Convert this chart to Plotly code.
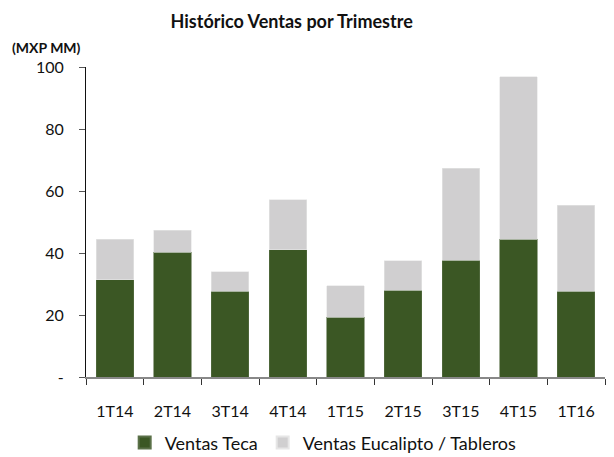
import plotly.graph_objects as go

categories = ["1T14", "2T14", "3T14", "4T14", "1T15", "2T15", "3T15", "4T15", "1T16"]
ventas_teca = [31.3, 40.3, 27.6, 41.0, 19.3, 28.0, 37.6, 44.4, 27.6]
ventas_eucalipto = [13.1, 7.1, 6.3, 16.2, 10.1, 9.5, 29.8, 52.5, 27.8]
y_tickvals = [0, 20, 40, 60, 80, 100]
y_ticktext = ["-", "20", "40", "60", "80", "100"]

font_fam = "Lato, 'Open Sans', sans-serif"

fig = go.Figure()
fig.add_trace(go.Bar(
    x=categories, y=ventas_teca, name="Ventas Teca",
    marker=dict(color="#3b5724", line=dict(color="#5a7048", width=0.6)),
))
fig.add_trace(go.Bar(
    x=categories, y=ventas_eucalipto, name="Ventas Eucalipto / Tableros",
    marker=dict(color="#d0cfd0", line=dict(color="#e6e6e6", width=0.6)),
))

fig.update_layout(
    barmode="stack",
    bargap=0.35,
    width=614, height=457,
    margin=dict(l=86, r=9, t=67, b=80, autoexpand=False),
    paper_bgcolor="white", plot_bgcolor="white",
    font=dict(family=font_fam, size=15, color="#111111"),
    title=dict(text="<b>Histórico Ventas por Trimestre</b>", x=0.475, xanchor="center",
               y=0.953, yanchor="middle",
               font=dict(family=font_fam, size=18, color="#111111")),
    showlegend=True,
    legend=dict(orientation="h", x=0.457, xanchor="center",
                yref="container", y=0.031, yanchor="middle",
                font=dict(size=18), traceorder="normal",
                itemsizing="constant"),
    annotations=[dict(text="<b>(MXP MM)</b>", xref="paper", yref="paper",
                      x=-0.147, y=1.062, xanchor="left", yanchor="middle",
                      showarrow=False, font=dict(size=14, family=font_fam))],
)
fig.update_yaxes(
    range=[0, 100], tickvals=y_tickvals, ticktext=y_ticktext,
    showgrid=False, zeroline=False,
    showline=True, linecolor="#111111", linewidth=1,
    ticks="outside", ticklen=6, tickcolor="#555555",
    tickfont=dict(size=16), ticklabelstandoff=12,
)
fig.update_xaxes(
    showgrid=False, showline=True, linecolor="#888888", linewidth=1.5,
    ticks="outside", ticklen=6, tickcolor="#333333", tickson="boundaries",
    tickfont=dict(size=16), ticklabelstandoff=19,
)

fig.write_html("out.html", config={"displayModeBar": False},
               post_script="document.body.style.margin='0';")
